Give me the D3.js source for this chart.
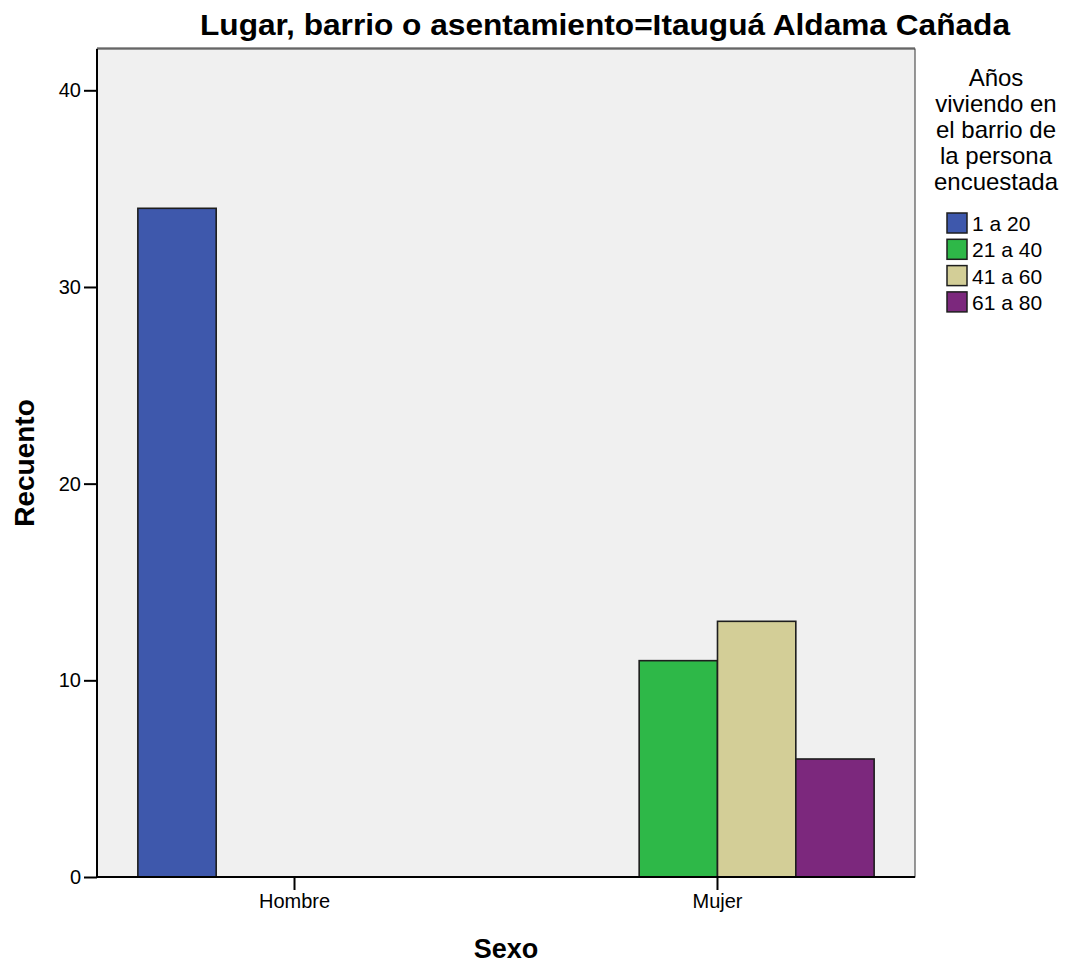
<!DOCTYPE html>
<html>
<head>
<meta charset="utf-8">
<script src="https://cdn.jsdelivr.net/npm/d3@7"></script>
<style>
  html, body { margin: 0; padding: 0; background: #fff; }
  svg { display: block; }
  text { font-family: "Liberation Sans", Arial, sans-serif; fill: #000; }
</style>
</head>
<body>
<svg id="chart" width="1067" height="967"></svg>
<script>
const titleText = "Lugar, barrio o asentamiento=Itauguá Aldama Cañada";
const categories = ["Hombre", "Mujer"];
const seriesNames = ["1 a 20", "21 a 40", "41 a 60", "61 a 80"];
const seriesColors = ["#3e58ac", "#2eb848", "#d3ce97", "#7c287d"];
const hombreValues = [34, 0, 0, 0];
const mujerValues = [0, 11, 13, 6];
const yTicks = [0, 10, 20, 30, 40];
const legendTitleLines = ["Años", "viviendo en", "el barrio de", "la persona", "encuestada"];
const xLabel = "Sexo";
const yLabel = "Recuento";

const valuesByCat = { "Hombre": hombreValues, "Mujer": mujerValues };

const svg = d3.select("#chart");
const plot = { left: 97, right: 915, top: 49, bottom: 877 };

const y = d3.scaleLinear().domain([0, 42.1]).range([plot.bottom, plot.top]);
const x0 = d3.scaleBand().domain(categories).range([plot.left, plot.right])
  .paddingInner(0.2593).paddingOuter(0.0966);
const x1 = d3.scaleBand().domain(seriesNames).range([0, x0.bandwidth()]).padding(0);
const color = d3.scaleOrdinal().domain(seriesNames).range(seriesColors);

// plot background
svg.append("rect")
  .attr("x", plot.left).attr("y", plot.top - 2)
  .attr("width", plot.right - plot.left).attr("height", 3)
  .attr("fill", "#9a9a9a");
svg.append("rect")
  .attr("x", plot.left).attr("y", plot.top)
  .attr("width", plot.right - plot.left).attr("height", plot.bottom - plot.top)
  .attr("fill", "#f0f0f0").attr("stroke", "#333").attr("stroke-width", 1);

// bars
const groups = svg.append("g").selectAll("g")
  .data(categories).join("g")
  .attr("transform", d => `translate(${x0(d)},0)`);
groups.selectAll("rect")
  .data(c => seriesNames.map((s, i) => ({ s, v: valuesByCat[c][i] })).filter(d => d.v > 0))
  .join("rect")
  .attr("x", d => x1(d.s))
  .attr("y", d => y(d.v))
  .attr("width", x1.bandwidth())
  .attr("height", d => y(0) - y(d.v))
  .attr("fill", d => color(d.s))
  .attr("stroke", "#1e1e1e").attr("stroke-width", 1.6);

// y axis
const yAxis = svg.append("g")
  .attr("transform", `translate(${plot.left},0)`)
  .call(d3.axisLeft(y).tickValues(yTicks).tickSize(13).tickPadding(3).tickFormat(d3.format("d")));
yAxis.select(".domain").attr("stroke", "#000").attr("stroke-width", 2)
  .attr("d", `M0,${plot.top}V${plot.bottom}`);
yAxis.selectAll(".tick line").attr("stroke", "#000").attr("stroke-width", 2);
yAxis.selectAll(".tick text").style("font-family", "Liberation Sans, Arial, sans-serif")
  .style("font-size", "20px").attr("fill", "#000");

// x axis
const xAxis = svg.append("g")
  .attr("transform", `translate(0,${plot.bottom})`)
  .call(d3.axisBottom(x0).tickSize(13).tickPadding(4));
xAxis.select(".domain").attr("stroke", "#000").attr("stroke-width", 2)
  .attr("d", `M${plot.left},0H${plot.right}`);
xAxis.selectAll(".tick line").attr("stroke", "#000").attr("stroke-width", 2);
xAxis.selectAll(".tick text").style("font-family", "Liberation Sans, Arial, sans-serif")
  .style("font-size", "20px").attr("fill", "#000");

// title
svg.append("text")
  .attr("x", 200).attr("y", 35)
  .attr("textLength", 810).attr("lengthAdjust", "spacingAndGlyphs")
  .style("font-size", "30px").style("font-weight", "bold")
  .text(titleText);

// axis titles
svg.append("text")
  .attr("x", (plot.left + plot.right) / 2).attr("y", 958)
  .attr("text-anchor", "middle")
  .style("font-size", "27px").style("font-weight", "bold")
  .text(xLabel);
svg.append("text")
  .attr("transform", `translate(34,${(plot.top + plot.bottom) / 2}) rotate(-90)`)
  .attr("text-anchor", "middle")
  .style("font-size", "28px").style("font-weight", "bold")
  .text(yLabel);

// legend
const legend = svg.append("g");
legend.selectAll("text.lt")
  .data(legendTitleLines).join("text")
  .attr("class", "lt")
  .attr("x", 996).attr("y", (d, i) => 86 + i * 26)
  .attr("text-anchor", "middle")
  .style("font-size", "24px")
  .text(d => d);
const items = legend.selectAll("g.item")
  .data(seriesNames).join("g")
  .attr("class", "item")
  .attr("transform", (d, i) => `translate(947,${213 + i * 26.3})`);
items.append("rect")
  .attr("width", 20).attr("height", 20)
  .attr("fill", d => color(d))
  .attr("stroke", "#1e1e1e").attr("stroke-width", 1.5);
items.append("text")
  .attr("x", 25).attr("y", 18)
  .style("font-size", "21px")
  .text(d => d);
</script>
</body>
</html>
